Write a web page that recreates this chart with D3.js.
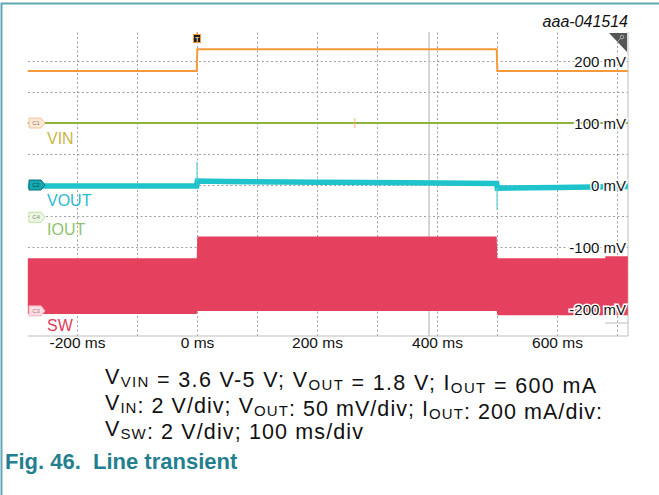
<!DOCTYPE html>
<html>
<head>
<meta charset="utf-8">
<script src="https://cdn.jsdelivr.net/npm/d3@7/dist/d3.min.js"></script>
<style>
  body { margin: 0; background: #fff; }
  svg { font-family: "Liberation Sans", Arial, sans-serif; }
</style>
</head>
<body>
<div id="chart"></div>
<script>
// Time axis (ms) and screen voltage axis (mV)
const timeTicks = [-200, 0, 200, 400, 600];
const voltTicks = [200, 100, 0, -100, -200];

// Orange trace (input step)
const stepTime = [-282, -0.5, 0.5, 499.5, 500.5, 718];
const stepLevel = [184, 184, 219, 219, 184, 184];

// VIN (C1) flat line
const vinTime = [-282, 718];
const vinLevel = [100, 100];

// VOUT (C2) and its transient spikes
const voutTime = [-282, -0.5, 0.5, 50, 200, 350, 499.5, 500.5, 600, 718];
const voutLevel = [-1.5, -1.5, 6.5, 5.5, 4.5, 3.5, 2.5, -5, -4, -2.5];
const spikeTime = [0, 500];
const spikeFrom = [6.5, -5];
const spikePeak = [37, -40];

// SW (C3) envelope
const swTime = [-282, -0.5, 0.5, 499.5, 500.5, 680, 681, 718];
const swTop = [-118, -118, -83, -83, -118, -118, -115, -115];
const swBottom = [-208, -208, -203, -203, -210, -210, -210, -210];

// Channel tags
const channelNames = ["C1", "C2", "C4", "C3"];
const channelLabels = ["VIN", "VOUT", "IOUT", "SW"];
const channelLevels = [100, 0, -52, -203];

function renderScope() {
    const width = 659;
    const height = 495;
    const plot = { left: 28, right: 628, top: 32, bottom: 336 };

    const svg = d3.select("#chart")
        .append("svg")
        .attr("width", width)
        .attr("height", height);

    // okvir slike
    svg.append("path")
        .attr("d", `M1.5,${height} V3.5 H${width}`)
        .attr("fill", "none")
        .attr("stroke", "#5fa7b3")
        .attr("stroke-width", 2);

    const x = d3.scaleLinear()
        .domain([-281.7, 718.3])
        .range([plot.left, plot.right]);

    const y = d3.scaleLinear()
        .domain([-243.5, 246.8])
        .range([plot.bottom, plot.top]);

    // Mreža
    svg.append("g")
        .attr("class", "grid-x")
        .attr("transform", `translate(0,${plot.bottom})`)
        .call(d3.axisBottom(x).tickValues(d3.range(-200, 701, 100))
            .tickSize(-(plot.bottom - plot.top)).tickFormat(""))
        .call(g => g.select(".domain").remove())
        .selectAll("line")
        .attr("stroke", "#a0a0a0")
        .attr("stroke-dasharray", "2,2.5");

    svg.append("g")
        .attr("class", "grid-y")
        .attr("transform", `translate(${plot.left},0)`)
        .call(d3.axisLeft(y).tickValues(d3.range(-200, 201, 50))
            .tickSize(-(plot.right - plot.left)).tickFormat(""))
        .call(g => g.select(".domain").remove())
        .selectAll("line")
        .attr("stroke", "#a0a0a0")
        .attr("stroke-dasharray", "2,2.5");

    // kurzor
    svg.append("line")
        .attr("x1", x(386.7)).attr("x2", x(386.7))
        .attr("y1", plot.top).attr("y2", plot.bottom)
        .attr("stroke", "#c8c8c8")
        .attr("stroke-width", 1.5);

    // rob
    svg.append("path")
        .attr("d", `M${plot.left},${plot.bottom} H${plot.right} V${plot.top}`)
        .attr("fill", "none")
        .attr("stroke", "#bdbdbd");
    svg.append("line")
        .attr("x1", x(680)).attr("x2", plot.right)
        .attr("y1", 323).attr("y2", 323)
        .attr("stroke", "#bdbdbd");

    const line = d3.line().x(d => x(d[0])).y(d => y(d[1]));

    // SW
    const swData = swTime.map((t, i) => [t, swTop[i], swBottom[i]]);
    svg.append("path")
        .datum(swData)
        .attr("d", d3.area().x(d => x(d[0])).y0(d => y(d[2])).y1(d => y(d[1])))
        .attr("fill", "#e5405d");

    // VIN
    svg.append("path")
        .datum(vinTime.map((t, i) => [t, vinLevel[i]]))
        .attr("d", line)
        .attr("fill", "none")
        .attr("stroke", "#8db33c")
        .attr("stroke-width", 2);
    svg.append("line")
        .attr("x1", x(263)).attr("x2", x(263))
        .attr("y1", y(108)).attr("y2", y(92))
        .attr("stroke", "#f7b060");

    // Oranžna
    svg.append("path")
        .datum(stepTime.map((t, i) => [t, stepLevel[i]]))
        .attr("d", line)
        .attr("fill", "none")
        .attr("stroke", "#f59a3a")
        .attr("stroke-width", 2);

    // VOUT
    svg.append("path")
        .datum(voutTime.map((t, i) => [t, voutLevel[i]]))
        .attr("d", line)
        .attr("fill", "none")
        .attr("stroke", "#1fc3cc")
        .attr("stroke-width", 5.5);
    svg.selectAll(".spike")
        .data(spikeTime)
        .enter()
        .append("line")
        .attr("class", "spike")
        .attr("x1", d => x(d)).attr("x2", d => x(d))
        .attr("y1", (d, i) => y(spikeFrom[i]))
        .attr("y2", (d, i) => y(spikePeak[i]))
        .attr("stroke", "#5fd3da")
        .attr("stroke-width", 1.2);

    // Oznake kanalov
    const tagStyle = {
        C1: { fill: "#fde9d7", stroke: "#f3c69b", text: "#8a7a6a", label: "#cdb445", dy: 21 },
        C2: { fill: "#17a9b2", stroke: "#0d6c74", text: "#0b4e55", label: "#2cb9cc", dy: 21 },
        C4: { fill: "#eef7e4", stroke: "#bfe0a2", text: "#7a8a70", label: "#8dc26a", dy: 18 },
        C3: { fill: "#fbdde3", stroke: "#f2b5c1", text: "#b07a85", label: "#e23b5b", dy: 20 }
    };

    channelNames.forEach((name, i) => {
        const cy = y(channelLevels[i]);
        const s = tagStyle[name];
        const x0 = plot.left + 1;
        svg.append("path")
            .attr("d", `M${x0},${cy - 5} H${x0 + 12} L${x0 + 16},${cy} L${x0 + 12},${cy + 5} H${x0} Z`)
            .attr("fill", s.fill)
            .attr("stroke", s.stroke)
            .attr("stroke-linejoin", "round");
        svg.append("text")
            .attr("x", x0 + 7)
            .attr("y", cy + 2)
            .attr("text-anchor", "middle")
            .attr("fill", s.text)
            .style("font-size", "6px")
            .text(name);
        svg.append("text")
            .attr("x", 47)
            .attr("y", cy + s.dy)
            .attr("fill", s.label)
            .style("font-size", "16px")
            .text(channelLabels[i]);
    });

    // Os X
    svg.append("g")
        .attr("class", "x-axis")
        .attr("transform", `translate(0,${plot.bottom})`)
        .call(d3.axisBottom(x).tickValues(timeTicks).tickSize(0).tickPadding(0)
            .tickFormat(d => `${d} ms`))
        .call(g => g.select(".domain").remove())
        .selectAll("text")
        .attr("dy", "11.5px")
        .attr("fill", "#111")
        .style("font-size", "15.5px")
        .style("font-family", "'Liberation Sans', Arial, sans-serif");

    // Os Y
    svg.append("g")
        .attr("class", "y-axis")
        .attr("transform", `translate(${plot.right - 2},0)`)
        .call(d3.axisLeft(y).tickValues(voltTicks).tickSize(0).tickPadding(0)
            .tickFormat(d => `${d} mV`))
        .call(g => g.select(".domain").remove())
        .selectAll("text")
        .attr("dy", "5px")
        .attr("fill", "#111")
        .attr("stroke", "#fff")
        .attr("stroke-width", 3)
        .attr("paint-order", "stroke")
        .style("font-size", "15px")
        .style("font-family", "'Liberation Sans', Arial, sans-serif");

    // Sprožilec
    svg.append("line")
        .attr("x1", x(0)).attr("x2", x(0))
        .attr("y1", plot.top).attr("y2", 35)
        .attr("stroke", "#f59a3a");
    svg.append("rect")
        .attr("x", x(0) - 3.5).attr("y", 34.5)
        .attr("width", 7).attr("height", 8)
        .attr("fill", "#1a1a1a")
        .attr("stroke", "#f59a3a");
    svg.append("text")
        .attr("x", x(0)).attr("y", 41.5)
        .attr("text-anchor", "middle")
        .attr("fill", "#f5d0a0")
        .style("font-size", "7px")
        .style("font-weight", "bold")
        .text("T");

    // Zgornji desni kot
    svg.append("path")
        .attr("d", `M609,${plot.top + 1} H${plot.right - 1} V52 Z`)
        .attr("fill", "#555");
    svg.append("circle")
        .attr("cx", 622).attr("cy", 37).attr("r", 1.8)
        .attr("fill", "none").attr("stroke", "#bbb").attr("stroke-width", 0.8);
    svg.append("line")
        .attr("x1", 620.5).attr("y1", 38.5).attr("x2", 617).attr("y2", 42)
        .attr("stroke", "#bbb").attr("stroke-width", 0.8);

    svg.append("text")
        .attr("x", plot.right)
        .attr("y", 27)
        .attr("text-anchor", "end")
        .attr("fill", "#111")
        .style("font-size", "16px")
        .style("font-style", "italic")
        .text("aaa-041514");

    // Napis
    const caption = [
        [["V", ""], ["VIN", "sub"], [" = 3.6 V-5 V; V", ""], ["OUT", "sub"], [" = 1.8 V; I", ""], ["OUT", "sub"], [" = 600 mA", ""]],
        [["V", ""], ["IN", "sub"], [": 2 V/div; V", ""], ["OUT", "sub"], [": 50 mV/div; I", ""], ["OUT", "sub"], [": 200 mA/div:", ""]],
        [["V", ""], ["SW", "sub"], [": 2 V/div; 100 ms/div", ""]]
    ];
    const captionWidth = [491, 497, 258];
    caption.forEach((parts, i) => {
        const t = svg.append("text")
            .attr("x", 105)
            .attr("y", 384 + i * 26)
            .attr("fill", "#111")
            .attr("textLength", captionWidth[i])
            .attr("lengthAdjust", "spacing")
            .style("font-size", "21.5px");
        parts.forEach(p => {
            if (p[1] === "sub") {
                t.append("tspan").attr("dy", 3).style("font-size", "15px").text(p[0]);
                t.append("tspan").attr("dy", -3).text("");
            } else {
                t.append("tspan").text(p[0]);
            }
        });
    });

    svg.append("text")
        .attr("x", 5)
        .attr("y", 469)
        .attr("fill", "#237f8f")
        .style("font-size", "22px")
        .style("font-weight", "bold")
        .attr("xml:space", "preserve")
        .text("Fig. 46.  Line transient");
}

renderScope();
</script>
</body>
</html>
